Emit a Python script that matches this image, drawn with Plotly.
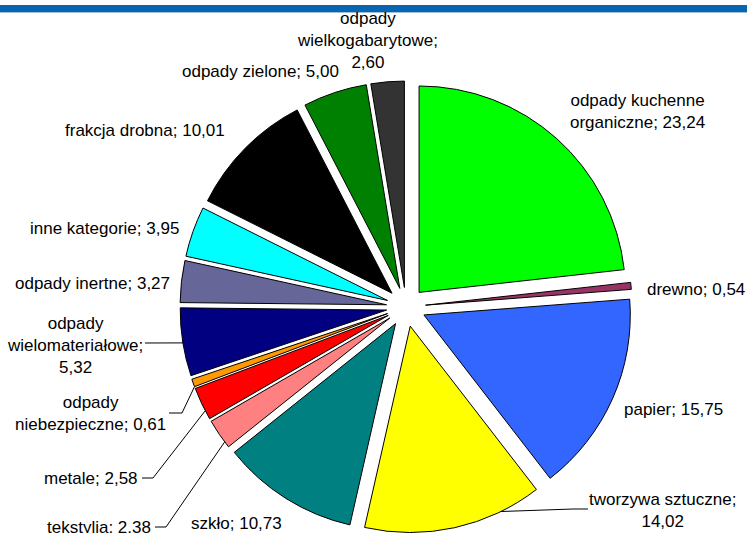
import math
import plotly.graph_objects as go

# udział frakcji odpadów [%]
categories = [
    "odpady kuchenne organiczne",
    "drewno",
    "papier",
    "tworzywa sztuczne",
    "szkło",
    "tekstylia",
    "metale",
    "odpady niebezpieczne",
    "odpady wielomateriałowe",
    "odpady inertne",
    "inne kategorie",
    "frakcja drobna",
    "odpady zielone",
    "odpady wielkogabarytowe",
]
values = [23.24, 0.54, 15.75, 14.02, 10.73, 2.38, 2.58, 0.61, 5.32, 3.27, 3.95, 10.01, 5.00, 2.60]
colors = [
    "#00FF00", "#993366", "#3366FF", "#FFFF00", "#008080", "#FF8080", "#FF0000",
    "#FF9900", "#000080", "#666699", "#00FFFF", "#000000", "#008000", "#333333",
]

W, H = 747, 533
M_TOP = 81
PULL = 0.095
DOM_X = [0.2, 0.887]
FONT = "Arial, 'Liberation Sans', sans-serif"
FONT_SIZE = 17

# label layout in pixels: text position, anchor, line breaks (after token n),
# leader = (line end x, y, elbow dx, attach position inside the slice 0..1)
LABELS = {
    "odpady kuchenne organiczne": dict(x=637, y=111, anchor="center", wrap=[2]),
    "drewno": dict(x=645, y=289, anchor="left"),
    "papier": dict(x=673, y=409, anchor="center"),
    "tworzywa sztuczne": dict(x=662, y=510, anchor="center", wrap=[2],
                              leader=(588, 509, -15, 0.23)),
    "szkło": dict(x=236, y=523, anchor="center"),
    "tekstylia": dict(x=153, y=527, anchor="right", leader=(155, 527, 11, 0.2)),
    "metale": dict(x=140, y=478, anchor="right", leader=(142, 478, 11, 0.27)),
    "odpady niebezpieczne": dict(x=90, y=413, anchor="center", wrap=[1],
                                 leader=(169, 413, 13, 0.0)),
    "odpady wielomateriałowe": dict(x=75, y=345, anchor="center", wrap=[1, 2],
                                    leader=(145, 343, 0, 0.49)),
    "odpady inertne": dict(x=92, y=283, anchor="center"),
    "inne kategorie": dict(x=104, y=228, anchor="center"),
    "frakcja drobna": dict(x=145, y=130, anchor="center"),
    "odpady zielone": dict(x=260, y=72, anchor="center"),
    "odpady wielkogabarytowe": dict(x=367, y=40, anchor="center", wrap=[1, 2]),
}

plot_h = H - M_TOP


def px(x):
    return x / W


def py(y):
    return 1 - (y - M_TOP) / plot_h


# pie geometry as plotly lays it out
box_w = W * (DOM_X[1] - DOM_X[0])
r = min(box_w, plot_h) / 2 / (1 + PULL)
cx = W * (DOM_X[0] + DOM_X[1]) / 2
cy = M_TOP + plot_h / 2
total = sum(values)


def pt(ox, oy, ang, rad):
    a = math.radians(ang)
    return ox + rad * math.sin(a), oy - rad * math.cos(a)


fig = go.Figure(
    go.Pie(
        labels=categories,
        values=values,
        sort=False,
        direction="clockwise",
        rotation=0,
        pull=[PULL] * len(values),
        marker=dict(colors=colors, line=dict(color="black", width=1)),
        textinfo="none",
        hoverinfo="label+value",
        domain=dict(x=DOM_X, y=[0, 1]),
        showlegend=False,
    )
)

annotations = []
shapes = [
    dict(type="rect", xref="paper", yref="paper", x0=0, x1=1, y0=py(12), y1=py(5),
         fillcolor="#0866B0", line=dict(width=0), layer="above"),
    dict(type="rect", xref="paper", yref="paper", x0=0, x1=1, y0=py(13), y1=py(12),
         fillcolor="#9DBFE0", line=dict(width=0), layer="above"),
]

cum = 0
for name, val in zip(categories, values):
    a0 = cum / total * 360
    cum += val
    a1 = cum / total * 360
    mid = (a0 + a1) / 2
    spec = LABELS[name]

    tokens = f"{name}; {val:.2f}".replace(".", ",").split(" ")
    lines, cur = [], []
    for i, tok in enumerate(tokens, start=1):
        cur.append(tok)
        if i in spec.get("wrap", []):
            lines.append(" ".join(cur))
            cur = []
    lines.append(" ".join(cur))

    annotations.append(dict(
        x=px(spec["x"]), y=py(spec["y"]), xref="paper", yref="paper",
        text="<br>".join(lines), showarrow=False,
        xanchor=spec["anchor"], yanchor="middle", align="center",
        font=dict(family=FONT, size=FONT_SIZE, color="black"),
    ))

    if "leader" in spec:
        ex, ey, dx, frac = spec["leader"]
        ox, oy = pt(cx, cy, mid, PULL * r)
        sx, sy = pt(ox, oy, a0 + frac * (a1 - a0), r)
        path = f"M {px(ex)},{py(ey)} L {px(ex + dx)},{py(ey)} L {px(sx)},{py(sy)}"
        shapes.append(dict(type="path", xref="paper", yref="paper", path=path,
                           line=dict(color="black", width=1)))

fig.update_layout(
    width=W,
    height=H,
    margin=dict(l=0, r=0, t=M_TOP, b=0),
    paper_bgcolor="white",
    plot_bgcolor="white",
    annotations=annotations,
    shapes=shapes,
    font=dict(family=FONT, size=FONT_SIZE, color="black"),
)

fig.write_html(
    "out.html",
    config={"displayModeBar": False},
    post_script="document.body.style.margin='0';document.body.style.padding='0';",
)
